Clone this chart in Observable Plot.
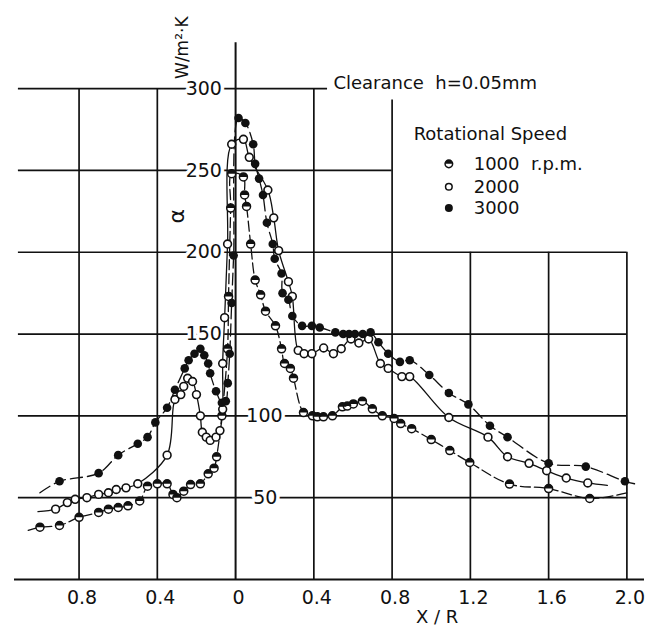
<!DOCTYPE html>
<html><head><meta charset="utf-8">
<script src="https://cdn.jsdelivr.net/npm/d3@7"></script>
<script src="https://cdn.jsdelivr.net/npm/@observablehq/plot@0.6"></script>
<style>body{margin:0;background:#fff} svg{display:block}</style>
</head><body><div id="chart"></div>
<script>
// X/R (negative = left of centre), alpha in W/m2K
const rpm1000 = [[-1.00,32],[-0.90,33],[-0.80,38],[-0.70,41],[-0.65,43],[-0.60,44],[-0.55,45],[-0.49,48],[-0.45,57],[-0.40,58.5],[-0.35,58.5],[-0.32,52],[-0.30,50],[-0.265,54],[-0.23,58],[-0.18,58.5],[-0.14,64.6],[-0.11,68],[-0.097,75],[-0.07,100],[-0.041,141],[-0.036,173],[-0.025,227],[-0.02,248],[0.04,246],[0.046,235],[0.056,228],[0.077,205],[0.10,183],[0.128,174],[0.153,164],[0.204,155],[0.235,141],[0.25,132],[0.28,129],[0.296,123],[0.347,102],[0.393,100],[0.418,99.4],[0.449,99.4],[0.495,100],[0.546,105.5],[0.571,106],[0.602,107.3],[0.648,109],[0.699,104.3],[0.75,100],[0.81,98.4],[0.844,95.3],[0.90,92.2],[1.00,85.5],[1.095,78.8],[1.197,71.5],[1.40,58.3],[1.60,55.6],[1.81,49.5]];
const rpm2000 = [[-0.92,43],[-0.86,47],[-0.82,49],[-0.76,50],[-0.70,52],[-0.65,53],[-0.61,55],[-0.56,56],[-0.50,58.5],[-0.35,76],[-0.31,110],[-0.28,113],[-0.265,118],[-0.245,123],[-0.22,121],[-0.20,113],[-0.18,100],[-0.17,90],[-0.15,87],[-0.13,85],[-0.10,87],[-0.08,91],[-0.066,104],[-0.066,132],[-0.056,160],[-0.041,205],[-0.02,266],[0.04,269],[0.07,258],[0.165,238],[0.195,221],[0.22,201],[0.27,182],[0.29,173],[0.32,140],[0.35,138],[0.39,138],[0.45,141.5],[0.50,138],[0.54,141],[0.59,147],[0.63,144.5],[0.68,147],[0.74,132],[0.78,129],[0.85,124],[0.89,124],[1.09,99],[1.29,87],[1.39,75],[1.50,71],[1.59,66.5],[1.69,62],[1.80,59]];
const rpm3000 = [[-0.90,60],[-0.70,65],[-0.60,76],[-0.50,83],[-0.45,87],[-0.41,96],[-0.35,105],[-0.31,116],[-0.26,129],[-0.24,134],[-0.21,138],[-0.18,141],[-0.16,137],[-0.14,132],[-0.13,126],[-0.10,115],[-0.07,108],[-0.05,109],[-0.04,120],[-0.03,138],[-0.02,169],[-0.01,198],[0.015,282],[0.05,279],[0.09,266],[0.10,254],[0.12,245],[0.14,235],[0.16,218],[0.19,205],[0.20,196],[0.235,187],[0.24,175],[0.27,171],[0.29,161],[0.34,155],[0.39,155],[0.43,154],[0.51,151],[0.55,150],[0.58,150],[0.61,150],[0.65,150],[0.69,151],[0.73,145],[0.78,138],[0.84,133],[0.89,134],[0.99,125],[1.09,114],[1.19,107],[1.30,94],[1.39,87],[1.60,71],[1.79,69],[1.99,60]];
// where the drawn curves start and end beyond the markers
const ends1000 = [[-1.06,30],[2.0,53]];
const ends2000 = [[-1.01,41.5],[1.9,57.5]];
const ends3000 = [[-1.0,53],[2.06,58]];

const xTicks = [-0.8,-0.4,0,0.4,0.8,1.2,1.6,2.0];
const yTicks = [50,100,150,200,250,300];
const yTicksLeft = [150,200,250,300];   // labels written left of the axis
const yTicksRight = [50,100];           // labels written right of the axis
const hGridEnd = [2.0,2.0,2.0,2.0,0.8,0.47];   // right end of each horizontal grid line
const vGridTop = [300,300,300,293,200,200,200]; // top of vertical grid lines
const vGridX = [-0.8,-0.4,0.4,0.8,1.2,1.6,2.0];
const legendLabels = ["1000  r.p.m.","2000","3000"];
const legendY = [254,240,227];

const font = "DejaVu Sans";
const halfTop = {draw(ctx, size){ const r = Math.sqrt(size/Math.PI); ctx.moveTo(-r,0); ctx.arc(0,0,r,Math.PI,2*Math.PI); ctx.closePath(); }};
const line = (pts, ends, dash) => Plot.line([ends[0], ...pts, ends[1]], {x:d=>d[0], y:d=>d[1], curve:"catmull-rom", stroke:"#111", strokeWidth:1.3, strokeDasharray:dash});
const fmtX = d => d === 0 ? "0" : Math.abs(d).toFixed(1);
const halo = {fontSize:19, fill:"#111", stroke:"white", strokeWidth:7, paintOrder:"stroke"};

const chart = Plot.plot({
  width:656, height:628,
  marginLeft:14, marginRight:12, marginTop:39, marginBottom:49,
  x:{domain:[-1.13,2.09], axis:null},
  y:{domain:[0,330], axis:null},
  style:{fontFamily:font, background:"#fff", color:"#111"},
  marks:[
    Plot.ruleY(yTicks, {y:d=>d, x1:-1.11, x2:(d,i)=>hGridEnd[i], stroke:"#111", strokeWidth:1.7}),
    Plot.ruleX(vGridX, {x:d=>d, y1:0, y2:(d,i)=>vGridTop[i], stroke:"#111", strokeWidth:1.7}),
    Plot.ruleX([0], {y1:0, y2:328, stroke:"#111", strokeWidth:2}),
    Plot.ruleY([0], {x1:-1.13, x2:2.09, stroke:"#111", strokeWidth:2}),
    Plot.text(yTicksLeft, {x:-0.07, y:d=>d, text:d=>String(d), textAnchor:"end", ...halo}),
    Plot.text(yTicksRight, {x:d=>d===50?0.09:0.055, y:d=>d, text:d=>String(d), textAnchor:"start", ...halo}),
    Plot.text(xTicks, {x:d=>d, y:0, dy:18, dx:3, text:fmtX, fontSize:19, fill:"#111"}),
    Plot.text(["X / R"], {x:1.03, y:0, dy:38, text:d=>d, fontSize:18, fill:"#111"}),
    Plot.text(["W/m\u00b2\u00b7K"], {x:-0.271, y:325, text:d=>d, rotate:-90, fontSize:17, fill:"#111"}),
    Plot.text(["\u03b1"], {x:-0.302, y:222, text:d=>d, rotate:-90, fontSize:22, fill:"#111"}),
    Plot.text(["Clearance  h=0.05mm"], {x:0.50, y:303, text:d=>d, textAnchor:"start", fontSize:18, fill:"#111", stroke:"white", strokeWidth:6, paintOrder:"stroke"}),
    Plot.text(["Rotational Speed"], {x:0.91, y:272, text:d=>d, textAnchor:"start", fontSize:18, fill:"#111"}),
    Plot.text(legendLabels, {x:1.217, y:(d,i)=>legendY[i], text:d=>d, textAnchor:"start", fontSize:18, fill:"#111"}),
    line(rpm3000, ends3000, "12,5"),
    line(rpm2000, ends2000, null),
    line(rpm1000, ends1000, "10,4"),
    Plot.dot(rpm1000, {x:d=>d[0], y:d=>d[1], r:4, fill:"white", stroke:"#111", strokeWidth:1.5}),
    Plot.dot(rpm1000, {x:d=>d[0], y:d=>d[1], r:4, symbol:halfTop, fill:"#111"}),
    Plot.dot(rpm2000, {x:d=>d[0], y:d=>d[1], r:3.9, fill:"white", stroke:"#111", strokeWidth:1.6}),
    Plot.dot(rpm3000, {x:d=>d[0], y:d=>d[1], r:4.3, fill:"#111"}),
    // legend markers
    Plot.dot([0], {x:1.09, y:legendY[0], r:3.8, fill:"white", stroke:"#111", strokeWidth:1.5}),
    Plot.dot([0], {x:1.09, y:legendY[0], r:3.8, symbol:halfTop, fill:"#111"}),
    Plot.dot([0], {x:1.09, y:legendY[1], r:3.3, fill:"white", stroke:"#111", strokeWidth:1.5}),
    Plot.dot([0], {x:1.09, y:legendY[2], r:4, fill:"#111"})
  ]
});
document.getElementById("chart").appendChild(chart);
</script>
</body></html>
